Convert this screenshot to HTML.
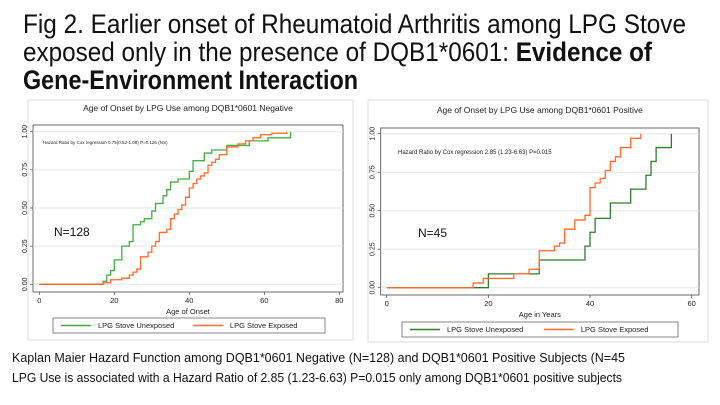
<!DOCTYPE html>
<html><head><meta charset="utf-8"><style>
body{margin:0;background:#fff;width:720px;height:405px;overflow:hidden}
svg{display:block}
text{font-family:"Liberation Sans",sans-serif}
</style></head><body>
<svg id="s" width="720" height="405" viewBox="0 0 720 405">
<g font-size="27" fill="#111">
<text x="23" y="33" textLength="663" lengthAdjust="spacingAndGlyphs">Fig 2. Earlier onset of Rheumatoid Arthritis among LPG Stove</text>
<text x="23" y="61" textLength="629" lengthAdjust="spacingAndGlyphs">exposed only in the presence of DQB1*0601: <tspan font-weight="bold">Evidence of</tspan></text>
<text x="23" y="89" font-weight="bold" textLength="335" lengthAdjust="spacingAndGlyphs">Gene-Environment Interaction</text>
</g>
<g font-size="12.5" fill="#111">
<text x="12" y="362" textLength="613" lengthAdjust="spacingAndGlyphs">Kaplan Maier Hazard Function among DQB1*0601 Negative (N=128) and DQB1*0601 Positive Subjects (N=45</text>
<text x="12" y="382" textLength="610" lengthAdjust="spacingAndGlyphs">LPG Use is associated with a Hazard Ratio of 2.85 (1.23-6.63) P=0.015 only among DQB1*0601 positive subjects</text>
</g>
<g id="c1"></g>
<g id="c2"></g>
</svg>
<script>
const negUnexpAges=[17,18,19,20,22,24,25,27,28,30,31,33,34,35,37,40,41,44,46,50,56,61,67];
const negUnexpVals=[0.02,0.06,0.09,0.16,0.25,0.28,0.39,0.41,0.43,0.48,0.53,0.58,0.62,0.67,0.69,0.74,0.81,0.86,0.88,0.91,0.94,0.96,1.0];
const negExpAges=[17,19,22,24,25,26,27,29,30,31,32,34,35,36,37,38,39,40,41,42,43,44,45,46,47,48,50,53,55,57,59,62,66];
const negExpVals=[0.01,0.03,0.04,0.06,0.08,0.10,0.18,0.21,0.25,0.28,0.34,0.36,0.43,0.46,0.49,0.52,0.57,0.63,0.66,0.69,0.71,0.73,0.78,0.80,0.82,0.85,0.90,0.92,0.94,0.96,0.98,0.99,1.0];
const posUnexpAges=[20,30,39,40,41,44,48,51,52,53,56];
const posUnexpVals=[0.09,0.18,0.27,0.36,0.45,0.55,0.64,0.73,0.82,0.91,1.0];
const posExpAges=[17,19,25,28,30,33,34,35,37,39,40,41,42,43,44,45,46,48,50];
const posExpVals=[0.03,0.06,0.09,0.12,0.24,0.27,0.29,0.38,0.44,0.47,0.65,0.68,0.71,0.76,0.82,0.85,0.91,0.97,1.0];
const yTicks=["0.00","0.25","0.50","0.75","1.00"];
const negXTicks=[0,20,40,60,80];
const posXTicks=[0,20,40,60];
const NS="http://www.w3.org/2000/svg";
function mk(p,t,a){const e=document.createElementNS(NS,t);for(const k in a)e.setAttribute(k,a[k]);p.appendChild(e);return e;}
function chart(g,o){
  const X=v=>o.x0+(v-o.xmin)*(o.x1-o.x0)/(o.xmax-o.xmin);
  const Y=v=>o.y0-v*(o.y0-o.y1);
  const pb=mk(g,'rect',{x:o.bx,y:o.by,width:o.bw,height:o.bh,fill:'#fff',stroke:'#d8dde3'});
  
  
  const t=mk(g,'text',{x:(o.fl+o.fr)/2,y:o.ty,'font-size':8.5,'text-anchor':'middle',fill:'#222'});t.textContent=o.title;
  
  
  const fr=mk(g,'rect',{x:o.fl,y:o.ft,width:o.fr-o.fl,height:o.fb-o.ft,fill:'#fff',stroke:'#444','stroke-width':0.8});
  
  
  yTicks.forEach(s=>{const v=+s,y=Y(v);
    const gl=mk(g,'line',{x1:o.fl,x2:o.fr,y1:y,y2:y,stroke:'#e6e6e6','stroke-width':1});
    
    
    mk(g,'line',{x1:o.fl-3,x2:o.fl,y1:y,y2:y,stroke:'#444','stroke-width':0.7});
    const l=mk(g,'text',{x:o.fl-6,y:y,'font-size':7,'text-anchor':'middle',fill:'#222',transform:`rotate(-90 ${o.fl-6} ${y})`});l.textContent=s;
    
    
  });
  o.xt.forEach(v=>{const x=X(v);
    mk(g,'line',{x1:x,x2:x,y1:o.fb,y2:o.fb+3,stroke:'#444','stroke-width':0.7});
    const l=mk(g,'text',{x:x,y:o.fb+11,'font-size':7.5,'text-anchor':'middle',fill:'#222'});l.textContent=v;
    
    
  });
  const xl=mk(g,'text',{x:(o.fl+o.fr)/2,y:o.fb+22,'font-size':7.5,'text-anchor':'middle',fill:'#222'});xl.textContent=o.xlabel;
  
  
  const hr=mk(g,'text',{x:o.hx,y:o.hy,'font-size':o.hs,fill:'#222'});hr.textContent=o.hr;
  
  
  const n=mk(g,'text',{x:o.nx,y:o.ny,'font-size':12,fill:'#111'});n.textContent=o.n;
  
  
  function step(ages,vals,col,name){
    let d=`M${X(0)},${Y(0)}`,prev=0;
    ages.forEach((a,i)=>{d+=` L${X(a)},${Y(prev)} L${X(a)},${Y(vals[i])}`;prev=vals[i];});
    const p=mk(g,'path',{d:d,fill:'none',stroke:col,'stroke-width':1.3});
    
    
  }
  step(o.ua,o.uv,o.gc,'unexposed-curve');
  step(o.ea,o.ev,'#ff6a2b','exposed-curve');
  const lg=mk(g,'rect',{x:o.lx,y:o.ly,width:o.lw,height:15,fill:'#fff',stroke:'#555','stroke-width':0.7});
  
  
  const cy=o.ly+7.5, half=o.lw/2;
  [[o.gc,'LPG Stove Unexposed',0],['#ff6a2b','LPG Stove Exposed',1]].forEach(([c,s,i])=>{
    const x=o.lx+8+i*half*0.97;
    mk(g,'line',{x1:x,x2:x+30,y1:cy,y2:cy,stroke:c,'stroke-width':1.5});
    const tt=mk(g,'text',{x:x+37,y:cy+2.7,'font-size':7.5,fill:'#222'});tt.textContent=s;
    
    
  });
}
chart(document.getElementById('c1'),{bx:28,by:100,bw:325,bh:240,fl:33,fr:343,ft:125,fb:292,
  x0:39.3,x1:339.3,xmin:0,xmax:80,y0:284.3,y1:131.7,xt:negXTicks,ty:111,title:'Age of Onset by LPG Use among DQB1*0601 Negative',
  xlabel:'Age of Onset',hr:'Hazard Ratio by Cox regression 0.75(0.52-1.09) P=0.126 (NS)',hx:43,hy:144,hs:4.5,n:'N=128',nx:54,ny:236,
  ua:negUnexpAges,uv:negUnexpVals,ea:negExpAges,ev:negExpVals,gc:'#3fae3f',lx:53,ly:318,lw:272});
chart(document.getElementById('c2'),{bx:368,by:100,bw:340,bh:242,fl:380.7,fr:699,ft:128,fb:295,
  x0:386.7,x1:691.7,xmin:0,xmax:60,y0:287.7,y1:133.7,xt:posXTicks,ty:113,title:'Age of Onset by LPG Use among DQB1*0601 Positive',
  xlabel:'Age in Years',hr:'Hazard Ratio by Cox regression 2.85 (1.23-6.63) P=0.015',hx:398,hy:154,hs:6,n:'N=45',nx:418,ny:237,
  ua:posUnexpAges,uv:posUnexpVals,ea:posExpAges,ev:posExpVals,gc:'#2e7d2e',lx:402,ly:322,lw:276});
</script>
</body></html>
